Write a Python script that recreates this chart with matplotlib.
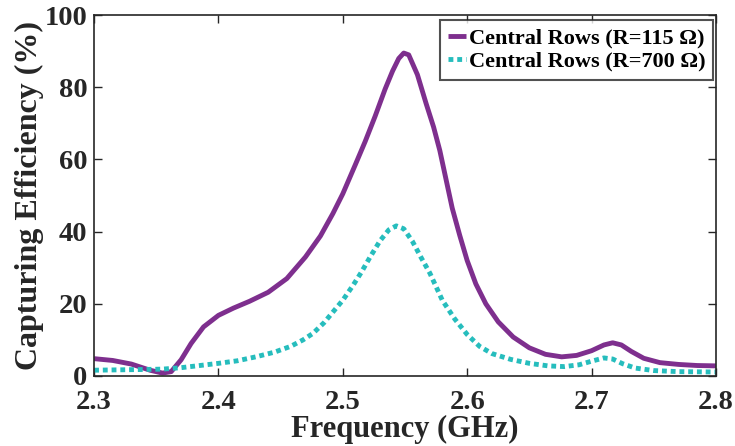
import matplotlib
matplotlib.use("Agg")
import matplotlib.pyplot as plt

# Frequency sweep (GHz) and capturing efficiency (%) for each load
freq_115 = [2.300, 2.315, 2.330, 2.345, 2.355, 2.362, 2.370, 2.378, 2.388, 2.400,
            2.412, 2.425, 2.440, 2.455, 2.470, 2.482, 2.492, 2.500, 2.510, 2.518,
            2.526, 2.534, 2.540, 2.545, 2.549, 2.553, 2.560, 2.567, 2.573, 2.578,
            2.583, 2.588, 2.594, 2.600, 2.607, 2.615, 2.625, 2.637, 2.650, 2.663,
            2.676, 2.688, 2.700, 2.710, 2.717, 2.724, 2.732, 2.742, 2.755, 2.770,
            2.785, 2.800]
eff_115 = [4.8, 4.3, 3.3, 1.6, 0.8, 1.2, 4.5, 9.0, 13.6, 16.8,
           18.8, 20.7, 23.2, 27.0, 33.0, 38.8, 45.0, 50.5, 58.5, 65.0,
           72.0, 79.5, 84.5, 88.0, 89.5, 89.0, 83.5, 75.5, 69.0, 62.5,
           54.5, 46.5, 39.0, 32.0, 25.5, 20.0, 15.0, 10.8, 7.8, 6.0,
           5.3, 5.7, 7.0, 8.6, 9.2, 8.6, 6.8, 4.9, 3.7, 3.2,
           2.9, 2.8]

freq_700 = [2.300, 2.320, 2.340, 2.355, 2.370, 2.385, 2.400, 2.415, 2.430, 2.445,
            2.458, 2.468, 2.476, 2.485, 2.492, 2.500, 2.508, 2.515, 2.522, 2.530,
            2.537, 2.543, 2.549, 2.556, 2.563, 2.570, 2.580, 2.590, 2.600, 2.610,
            2.620, 2.635, 2.650, 2.665, 2.678, 2.690, 2.700, 2.710, 2.717, 2.725,
            2.735, 2.750, 2.770, 2.800]
eff_700 = [1.6, 1.7, 1.8, 1.9, 2.3, 2.9, 3.5, 4.2, 5.3, 6.6,
           8.2, 10.0, 11.8, 14.8, 17.7, 21.0, 25.0, 28.8, 33.0, 37.5,
           40.5, 41.6, 40.8, 37.3, 32.8, 28.5, 21.0, 15.8, 11.5, 8.2,
           6.2, 4.6, 3.5, 2.8, 2.6, 3.1, 4.1, 5.0, 4.7, 3.4,
           2.2, 1.5, 1.2, 1.1]

labels = ["Central Rows (R=115 Ω)", "Central Rows (R=700 Ω)"]
x_ticks = [2.3, 2.4, 2.5, 2.6, 2.7, 2.8]
y_ticks = [0, 20, 40, 60, 80, 100]

plt.rcParams["font.family"] = ["Liberation Serif", "DejaVu Serif"]
plt.rcParams["font.weight"] = "bold"

fig = plt.figure(figsize=(7.35, 4.46), dpi=100)
ax = fig.add_axes([0.128, 0.157, 0.846, 0.809])

ax.plot(freq_115, eff_115, color="#7E2F8E", lw=3.5, label=labels[0],
        solid_capstyle="butt", solid_joinstyle="round")
ax.plot(freq_700, eff_700, color="#26BDBD", lw=3.5, label=labels[1],
        linestyle=(0, (1.0, 0.8)), dash_capstyle="butt")

ax.set_xlim(2.3, 2.8)
ax.set_ylim(0, 100)
ax.set_xticks(x_ticks)
ax.set_xticklabels([f"{t:.1f}" for t in x_ticks])
ax.set_yticks(y_ticks)
ax.tick_params(direction="in", length=6, width=1, top=True, right=True,
               labelsize=20.5, colors="#262626")
ax.tick_params(axis="x", pad=10)
ax.tick_params(axis="y", pad=5)
for lbl in ax.get_xticklabels() + ax.get_yticklabels():
    lbl.set_fontweight("bold")
    lbl.set_color("#262626")
for sp in ax.spines.values():
    sp.set_color("#262626")
    sp.set_linewidth(1.2)

ax.set_xlabel("Frequency (GHz)", fontsize=22, fontweight="bold",
              color="#262626", labelpad=0)
ax.set_ylabel("Capturing Efficiency (%)", fontsize=23, fontweight="bold",
              color="#262626", labelpad=0)

leg = ax.legend(loc="upper right", bbox_to_anchor=(0.996, 0.986),
                fontsize=16, handlelength=0.8,
                handletextpad=0.15, borderpad=0.35, labelspacing=0.12,
                borderaxespad=0.0, frameon=True, fancybox=False)
leg.get_frame().set_edgecolor("#262626")
leg.get_frame().set_linewidth(1.5)
for t in leg.get_texts():
    t.set_fontweight("bold")

fig.savefig("out.png", dpi=100)
